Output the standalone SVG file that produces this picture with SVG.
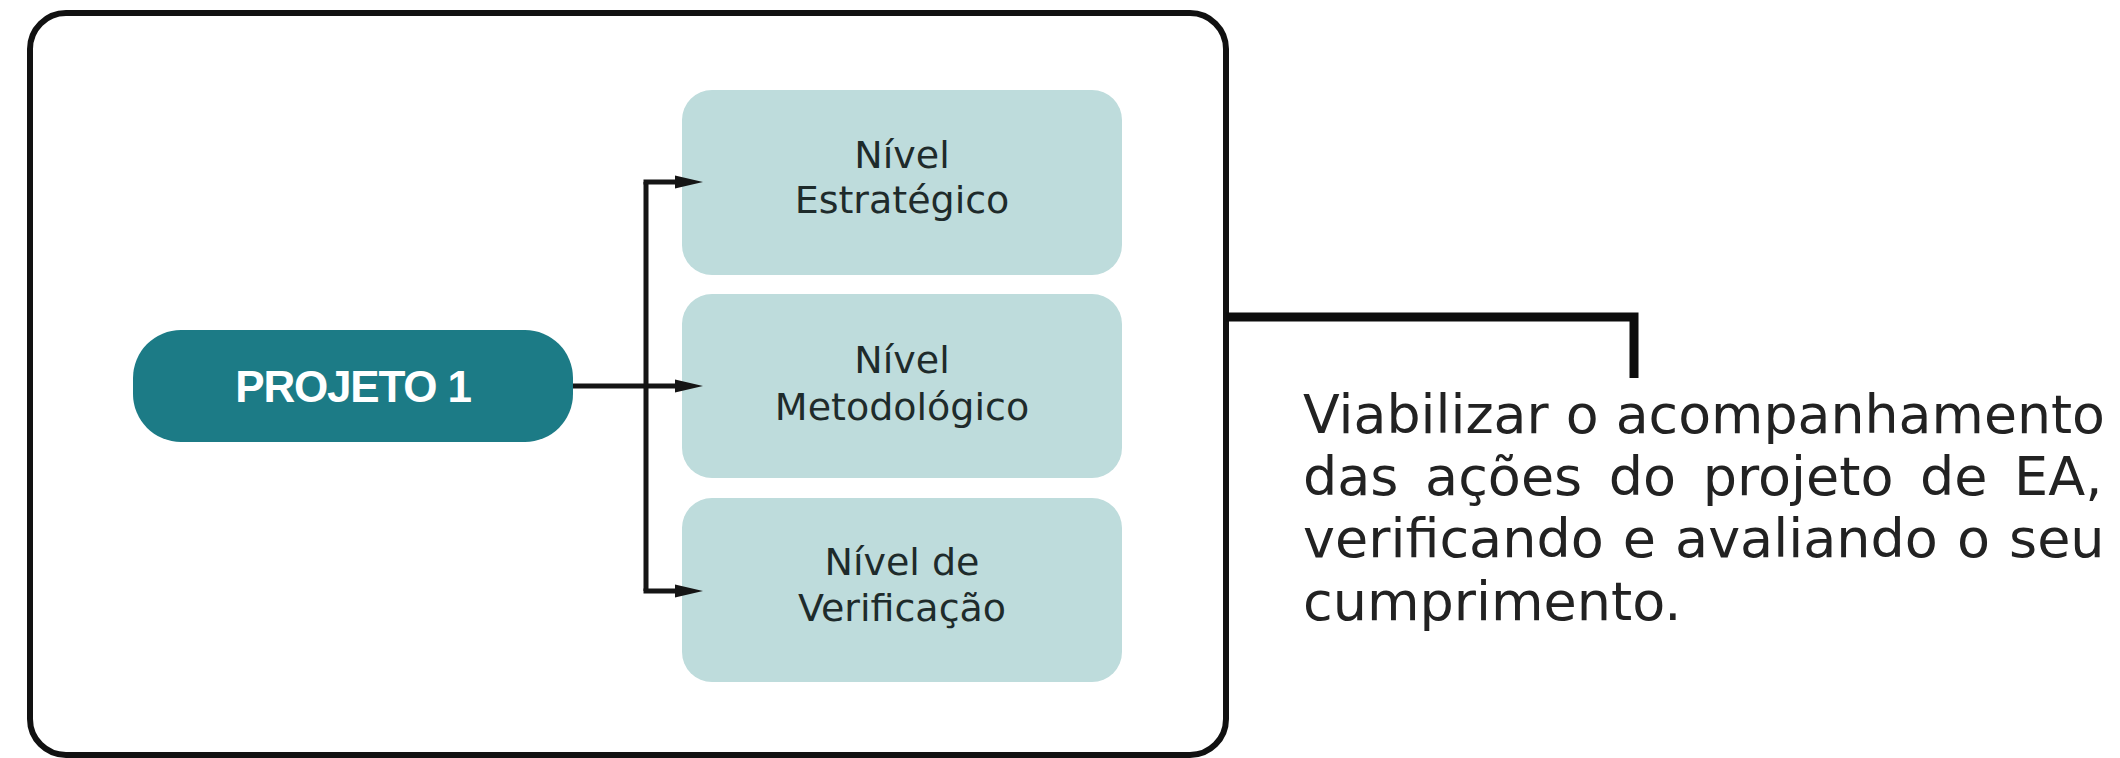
<svg xmlns="http://www.w3.org/2000/svg" width="2120" height="758" viewBox="0 0 2120 758">
  <style>
    .frame { fill: #ffffff; stroke: #111111; stroke-width: 6; }
    .pill { fill: #1c7b86; }
    .pilltext { font-family: "Liberation Sans", Arial, sans-serif; font-weight: bold; font-size: 44px; fill: #ffffff; letter-spacing: -1.2px; }
    .level { fill: #bedcdc; }
    .leveltext { font-family: "DejaVu Sans", sans-serif; font-size: 38px; fill: #1e2b2b; text-anchor: middle; }
    .conn { fill: none; stroke: #151515; stroke-width: 5; }
    .thick { fill: none; stroke: #0d0d0d; stroke-width: 9; stroke-linejoin: miter; }
    .para { font-family: "DejaVu Sans", sans-serif; font-size: 54px; fill: #222222; }
  </style>
  <defs>
    <marker id="arrow" markerUnits="userSpaceOnUse" markerWidth="28" markerHeight="14" viewBox="0 0 28 14" refX="10" refY="7" orient="auto">
      <path d="M0,0.5 L28,7 L0,13.5 z" fill="#151515"/>
    </marker>
  </defs>

  <g id="frame">
    <rect class="frame" x="30" y="13" width="1196" height="742" rx="36" ry="36"/>
  </g>

  <g id="projeto1">
    <rect class="pill" x="133" y="330" width="440" height="112" rx="48" ry="48"/>
    <text class="pilltext" x="353" y="402" text-anchor="middle">PROJETO 1</text>
  </g>

  <g id="nivel-estrategico">
    <rect class="level" x="682" y="90" width="440" height="185" rx="30" ry="30"/>
    <text class="leveltext" x="902" y="168">Nível</text>
    <text class="leveltext" x="902" y="213">Estratégico</text>
  </g>

  <g id="nivel-metodologico">
    <rect class="level" x="682" y="294" width="440" height="184" rx="30" ry="30"/>
    <text class="leveltext" x="902" y="373">Nível</text>
    <text class="leveltext" x="902" y="420">Metodológico</text>
  </g>

  <g id="nivel-verificacao">
    <rect class="level" x="682" y="498" width="440" height="184" rx="30" ry="30"/>
    <text class="leveltext" x="902" y="575">Nível de</text>
    <text class="leveltext" x="902" y="621">Verificação</text>
  </g>

  <g id="connectors">
    <path class="conn" d="M573,386 H685" marker-end="url(#arrow)"/>
    <path class="conn" d="M646,182 V591"/>
    <path class="conn" d="M643.5,182 H685" marker-end="url(#arrow)"/>
    <path class="conn" d="M643.5,591 H685" marker-end="url(#arrow)"/>
    <path class="thick" d="M1226,317 H1634 V378"/>
  </g>

  <g id="description">
    <text class="para" x="1303" y="433" textLength="802" lengthAdjust="spacingAndGlyphs">Viabilizar o acompanhamento</text>
    <text class="para" x="1303" y="495" word-spacing="9.4">das ações do projeto de EA,</text>
    <text class="para" x="1303" y="557" word-spacing="1.9">verificando e avaliando o seu</text>
    <text class="para" x="1303" y="620">cumprimento.</text>
  </g>
</svg>
